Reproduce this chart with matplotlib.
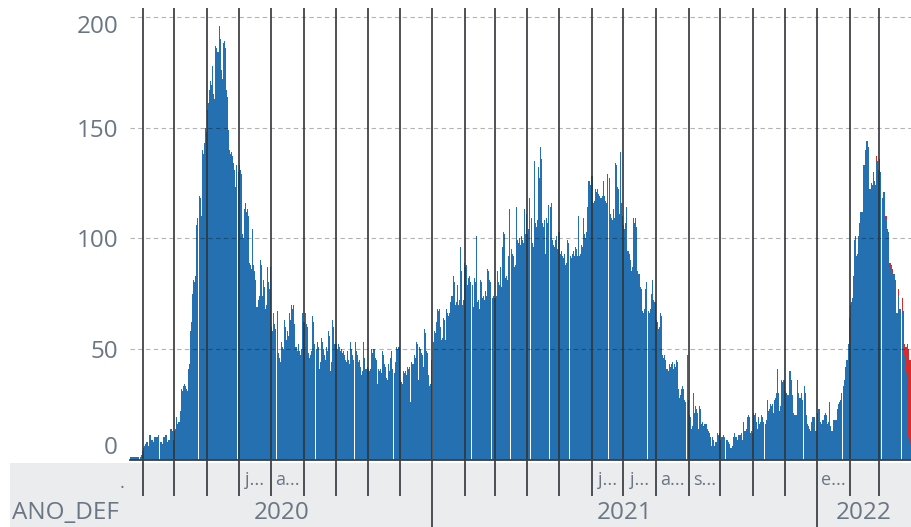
import numpy as np
import pandas as pd
import matplotlib
matplotlib.use("Agg")
import matplotlib.pyplot as plt
import matplotlib.transforms as mtransforms
from matplotlib.patches import Rectangle

plt.rcParams['font.family'] = ['Open Sans', 'DejaVu Sans']

START_DATE = "2020-03-20"

# daily values, one list per month
mar_2020 = [1, 1, 1, 1, 1, 1, 1, 1, 1, 1, 2, 4]
apr_2020 = [5, 6, 7, 8, 8, 6, 11, 11, 9, 9, 8, 10, 10, 10, 10, 11, 8, 8, 7, 10, 10, 11, 11, 8, 9, 9, 14, 14, 13, 9]
may_2020 = [13, 14, 19, 16, 17, 22, 32, 31, 33, 34, 33, 32, 31, 41, 43, 58, 62, 75, 81, 80, 83, 106, 109, 119, 118, 110, 140, 138, 143, 150, 148]
jun_2020 = [158, 161, 167, 171, 169, 178, 165, 163, 187, 186, 184, 196, 190, 176, 172, 188, 189, 186, 167, 164, 149, 140, 138, 139, 137, 134, 131, 123, 133, 130]
jul_2020 = [133, 131, 129, 102, 100, 113, 116, 112, 113, 110, 89, 88, 86, 104, 88, 85, 81, 69, 72, 74, 90, 88, 74, 81, 78, 68, 70, 87, 80, 77, 87]
aug_2020 = [60, 58, 66, 61, 59, 67, 48, 46, 44, 53, 51, 50, 63, 60, 54, 58, 56, 66, 63, 70, 68, 70, 61, 51, 49, 52, 49, 47, 50, 66, 62]
sep_2020 = [62, 66, 61, 60, 48, 46, 47, 49, 65, 62, 52, 50, 53, 51, 41, 44, 55, 53, 50, 47, 45, 51, 49, 58, 56, 40, 44, 63, 60, 52]
oct_2020 = [52, 50, 52, 51, 49, 50, 48, 49, 47, 45, 44, 49, 45, 43, 53, 50, 47, 45, 53, 49, 47, 44, 45, 42, 38, 40, 53, 46, 41, 41, 42]
nov_2020 = [41, 40, 41, 50, 48, 50, 46, 45, 34, 41, 40, 41, 39, 49, 47, 43, 42, 37, 36, 43, 40, 46, 49, 41, 39, 44, 51, 50, 51, 51]
dec_2020 = [36, 35, 34, 40, 39, 40, 38, 42, 41, 42, 26, 44, 43, 47, 46, 53, 52, 36, 51, 50, 48, 47, 42, 59, 57, 49, 48, 38, 33, 34, 45]
jan_2021 = [53, 58, 57, 62, 68, 67, 68, 60, 54, 55, 64, 63, 54, 68, 66, 65, 66, 71, 74, 83, 80, 70, 71, 79, 70, 72, 96, 85, 70, 72, 89]
feb_2021 = [87, 88, 79, 82, 83, 80, 79, 69, 82, 80, 101, 71, 72, 68, 81, 80, 73, 74, 72, 76, 74, 86, 85, 81, 80, 73, 74, 73]
mar_2021 = [73, 74, 85, 80, 79, 87, 78, 96, 103, 102, 82, 83, 81, 92, 113, 95, 93, 92, 87, 88, 114, 99, 98, 100, 97, 101, 99, 98, 113, 102, 111]
apr_2021 = [102, 104, 118, 109, 98, 96, 135, 107, 105, 108, 132, 127, 141, 136, 107, 105, 108, 93, 109, 107, 115, 114, 116, 99, 97, 96, 99, 101, 95, 103]
may_2021 = [103, 93, 94, 92, 91, 93, 88, 89, 99, 98, 92, 91, 93, 94, 92, 96, 95, 92, 110, 92, 93, 97, 96, 109, 102, 100, 103, 114, 126, 124, 128]
jun_2021 = [128, 116, 117, 122, 121, 122, 120, 119, 118, 118, 119, 126, 119, 117, 116, 129, 127, 111, 109, 108, 113, 109, 134, 133, 123, 122, 111, 139, 116, 110]
jul_2021 = [106, 104, 107, 114, 94, 93, 90, 85, 87, 109, 107, 109, 105, 85, 84, 84, 78, 77, 67, 66, 68, 77, 80, 67, 66, 68, 75, 81, 72, 71, 71]
aug_2021 = [63, 62, 59, 60, 66, 65, 47, 46, 47, 45, 41, 40, 43, 42, 43, 44, 41, 43, 42, 45, 44, 32, 28, 29, 32, 33, 32, 27, 26, 47, 27]
sep_2021 = [20, 19, 14, 15, 30, 21, 24, 23, 21, 14, 24, 23, 16, 17, 15, 16, 16, 14, 13, 12, 10, 6, 10, 9, 6, 8, 8, 12, 11, 12]
oct_2021 = [9, 10, 10, 11, 10, 9, 9, 8, 7, 5, 5, 6, 10, 12, 10, 10, 9, 11, 11, 11, 12, 9, 17, 13, 14, 19, 20, 19, 12, 13, 12]
nov_2021 = [21, 20, 21, 17, 14, 19, 16, 17, 20, 19, 17, 16, 18, 27, 22, 23, 25, 24, 25, 21, 27, 28, 30, 41, 30, 22, 24, 36, 35, 36]
dec_2021 = [31, 30, 29, 29, 40, 40, 36, 29, 21, 20, 20, 20, 36, 30, 28, 28, 30, 27, 33, 30, 20, 16, 15, 14, 13, 17, 19, 19, 19, 13, 13]
jan_2022 = [21, 23, 23, 17, 16, 18, 20, 21, 20, 16, 17, 26, 15, 13, 13, 18, 18, 18, 18, 23, 25, 26, 27, 30, 33, 36, 42, 45, 45, 52, 64]
feb_2022 = [70, 71, 73, 83, 99, 101, 92, 93, 101, 107, 112, 112, 133, 133, 140, 144, 144, 141, 122, 122, 125, 124, 130, 126, 124, 137, 135, 131]
mar_2022 = [136, 130, 118, 121, 121, 110, 110, 104, 103, 89, 89, 88, 86, 84, 84, 81, 66, 66, 77, 68, 68, 73, 67, 52, 51, 51, 52, 50, 45, 45]

# red (top) segment of the last weeks
red_feb_2022 = [0, 0, 0, 0, 0, 0, 0, 0, 0, 0, 0, 0, 0, 0, 0, 0, 0, 0, 0, 0, 2, 0, 0, 0, 0, 2, 0, 0]
red_mar_2022 = [0, 0, 0, 0, 0, 2, 2, 0, 0, 2, 2, 0, 2, 1, 0, 0, 0, 0, 3, 0, 0, 6, 5, 5, 8, 12, 25, 40, 38, 38]

month_lists = [mar_2020, apr_2020, may_2020, jun_2020, jul_2020, aug_2020, sep_2020,
               oct_2020, nov_2020, dec_2020, jan_2021, feb_2021, mar_2021, apr_2021,
               may_2021, jun_2021, jul_2021, aug_2021, sep_2021, oct_2021, nov_2021,
               dec_2021, jan_2022, feb_2022, mar_2022]

year_labels = ["2020", "2021", "2022"]
month_labels = {(2020, 3): ".", (2020, 7): "j...", (2020, 8): "a...",
                (2021, 6): "j...", (2021, 7): "j...", (2021, 8): "a...",
                (2021, 9): "s...", (2022, 1): "e..."}
axis_title = "ANO_DEF"
yticks = [0, 50, 100, 150, 200]

total = np.concatenate([np.array(m, dtype=float) for m in month_lists])
n = len(total)
red = np.concatenate([np.zeros(n - len(red_feb_2022) - len(red_mar_2022)),
                      np.array(red_feb_2022, float), np.array(red_mar_2022, float)])
blue = total - red
dates = pd.date_range(START_DATE, periods=n, freq="D")
x = np.arange(n)

BLUE = "#2470b1"
RED = "#d92b2b"
TEXT = "#6a7683"
LINE = "#30353a"

W, H = 911, 527
fig = plt.figure(figsize=(W / 100, H / 100), dpi=100)
ax_l, ax_r, ax_t, ax_b = 130, 911, 8, 459.5
ax = fig.add_axes([ax_l / W, (H - ax_b) / H, (ax_r - ax_l) / W, (ax_b - ax_t) / H])

# grey band under the plot
fig.add_artist(Rectangle((10 / W, 0), 1 - 10 / W, (H - 462.5) / H, transform=fig.transFigure,
                         facecolor="#ebecee", edgecolor="none", zorder=-5))

ax.bar(x, blue, width=0.97, color=BLUE, linewidth=0, zorder=2)
ax.bar(x, red, bottom=blue, width=0.97, color=RED, linewidth=0, zorder=2)

ax.set_xlim(-0.5, n - 0.5)
ax.set_ylim(0, 204)

for v in yticks[1:]:
    ax.axhline(v, color="black", alpha=0.3, lw=0.8, linestyle=(0, (4, 3)), zorder=3)

ax.set_yticks(yticks)
ax.set_yticklabels([str(v) for v in yticks])
ax.tick_params(axis="y", length=0, pad=8.6, labelsize=17.5, labelcolor=TEXT)
ax.set_xticks([])
for s in ["left", "top", "right"]:
    ax.spines[s].set_visible(False)
ax.spines["bottom"].set_color("#3a3f45")
ax.spines["bottom"].set_linewidth(1.3)
ax.spines["bottom"].set_zorder(6)

labs = ax.get_yticklabels()
labs[0].set_transform(labs[0].get_transform() + mtransforms.ScaledTranslation(0, 14 / 100, fig.dpi_scale_trans))
labs[-1].set_transform(labs[-1].get_transform() + mtransforms.ScaledTranslation(0, -7 / 100, fig.dpi_scale_trans))

trans = mtransforms.blended_transform_factory(ax.transData, ax.transAxes)

def ya(ypx):
    return (ax_b - ypx) / (ax_b - ax_t)

# month boundaries
starts = [i for i, d in enumerate(dates) if d.day == 1]
for i in starts:
    b = i - 0.5
    is_year = dates[i].month == 1
    y0 = ya(527) if is_year else ya(496)
    ax.plot([b, b], [y0, 1], transform=trans, color=LINE, lw=1.2, clip_on=False,
            zorder=5, solid_capstyle="butt")

# month labels
edges = [-0.5] + [i - 0.5 for i in starts] + [n - 0.5]
cells = []
first = dates[0]
keys = [(first.year, first.month)] + [(dates[i].year, dates[i].month) for i in starts]
for k, key in enumerate(keys):
    cells.append((key, edges[k], edges[k + 1]))
for key, a, b in cells:
    if key in month_labels:
        lab = month_labels[key]
        if lab == ".":
            ax.text(-8.1, ya(483), lab, transform=trans, ha="center", va="center",
                    fontsize=13, color=TEXT, clip_on=False)
        else:
            ax.text((a + b) / 2, ya(480), lab, transform=trans, ha="center", va="center",
                    fontsize=13, color=TEXT, clip_on=False)

# year labels
year_edges = [-0.5] + [i - 0.5 for i in starts if dates[i].month == 1] + [n - 0.5]
for k, yl in enumerate(year_labels):
    cx = (year_edges[k] + year_edges[k + 1]) / 2
    ax.text(cx, ya(513), yl, transform=trans, ha="center", va="center",
            fontsize=17.5, color=TEXT, clip_on=False)

fig.text(12 / W, (H - 513) / H, axis_title, ha="left", va="center", fontsize=17.5, color=TEXT)

fig.savefig("out.png", dpi=100)
